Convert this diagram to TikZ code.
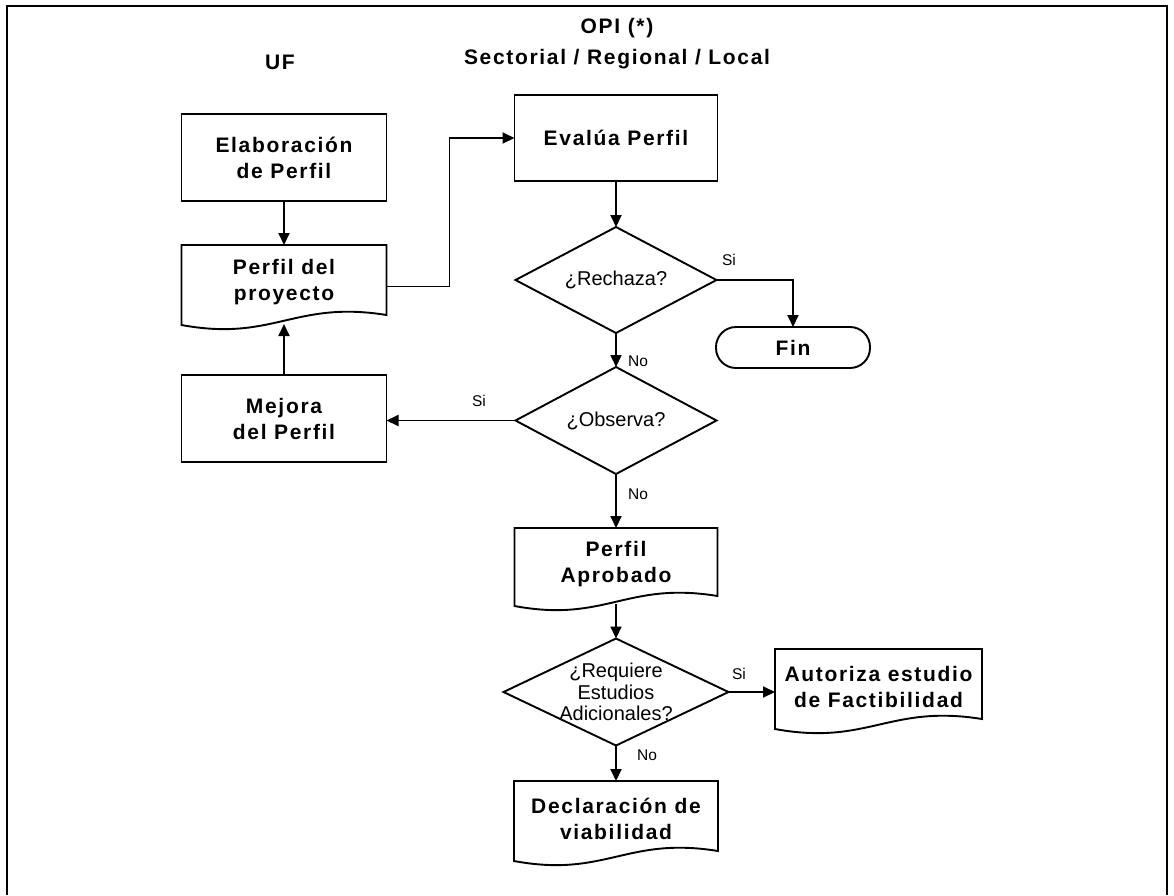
\documentclass[tikz,border=0pt]{standalone}
\usepackage{fontspec}
\setmainfont{Liberation Sans}
\newfontfamily\spacedfont[LetterSpace=8]{Liberation Sans}
\usetikzlibrary{arrows.meta,shapes.geometric,calc}

% outline of a "document" symbol: straight top and sides, wavy bottom edge
\newcommand\docoutline[1]{%
  \draw let \p1=(#1.south west), \p2=(#1.south east), \n1={\x2-\x1} in
    (#1.north west) -- (#1.north east) -- ($(#1.south east)+(0,-5)$)
    .. controls ($(#1.south east)+(-0.45*\n1,-20)$) and ($(#1.south west)+(0.45*\n1,22)$)
    .. ($(#1.south west)+(0,5)$) -- cycle;}

\begin{document}
\begin{tikzpicture}[x=1pt,y=-1pt,line width=1.9pt,
  every node/.style={inner sep=0pt,outer sep=0pt},
  bt/.style={font=\spacedfont\bfseries\fontsize{21}{26}\selectfont,align=center},
  procbox/.style={bt,draw,minimum width=205pt,minimum height=87pt},
  docbox/.style={bt,minimum width=205pt,minimum height=75pt},
  decision/.style={diamond,draw,minimum width=201pt,minimum height=106pt},
  dtext/.style={font=\fontsize{20}{21.5}\selectfont,align=center},
  lab/.style={font=\fontsize{15.5}{15.5}\selectfont},
  arr/.style={-{Triangle[length=12pt,width=11pt]}},
  terminal/.style={bt,draw,rounded corners=20pt,minimum width=154pt,minimum height=41pt}]

\useasboundingbox (0,0) rectangle (1174,895);

% frame
\draw[line width=2.2pt] (7,895) -- (7,6) -- (1167,6) -- (1167,895);

% column headings
\node[bt] (uf) at (280,62) {UF};
\node[bt,font=\spacedfont\bfseries\fontsize{21}{31}\selectfont] (opi) at (617,44) {OPI (*)\\Sectorial / Regional / Local};

% UF column
\node[procbox] (el) at (284,157.5) {Elaboración\\de Perfil};
\node[docbox] (pp) at (284,282.5) {Perfil del\\proyecto};
\docoutline{pp}
\node[procbox] (mej) at (284,418.5) {Mejora\\del Perfil};

% OPI column
\node[procbox,minimum width=203pt,minimum height=86pt] (ev) at (616,138) {Evalúa Perfil};
\node[decision,label={[dtext]center:¿Rechaza?}] (rz) at (616,280) {};
\node[terminal] (fin) at (793,347.5) {Fin};
\node[decision,minimum height=107pt,label={[dtext]center:¿Observa?}] (ob) at (616,420.5) {};
\node[docbox,minimum width=203pt,minimum height=73pt] (pa) at (616,564.5) {Perfil\\Aprobado};
\docoutline{pa}
\node[decision,minimum width=225pt,minimum height=107pt,
      label={[dtext]center:¿Requiere\\Estudios\\Adicionales?}] (rq) at (616,692) {};
\node[docbox,minimum width=207pt] (au) at (878.5,686.5) {Autoriza estudio\\de Factibilidad};
\docoutline{au}
\node[docbox,minimum width=204pt] (dec) at (616,818.5) {Declaración de\\viabilidad};
\docoutline{dec}

% connectors
\draw[arr] (el.south) -- (pp.north);
\draw[arr] (mej.north) -- ($(pp.south)+(0,4)$);
\draw[arr] ($(pp.east)+(0,4)$) -| ($(ev.west)+(-65,0)$) -- (ev.west);
\draw[arr] (ev.south) -- (rz.north);
\draw[arr] (rz.east) -| (fin.north);
\draw[arr] (rz.south) -- (ob.north);
\draw[arr] (ob.west) -- (ob.west -| mej.east);
\draw[arr] (ob.south) -- (pa.north);
\draw[arr] ($(pa.south)+(0,3)$) -- (rq.north);
\draw[arr] (rq.east) -- (rq.east -| au.west);
\draw[arr] (rq.south) -- (dec.north);

% branch labels
\node[lab] (s1) at (729,260) {Si};
\node[lab] (n1) at (638,361) {No};
\node[lab] (s2) at (479,401) {Si};
\node[lab] (n2) at (638,494) {No};
\node[lab] (s3) at (739,674) {Si};
\node[lab] (n3) at (647,755) {No};
\end{tikzpicture}
\end{document}
